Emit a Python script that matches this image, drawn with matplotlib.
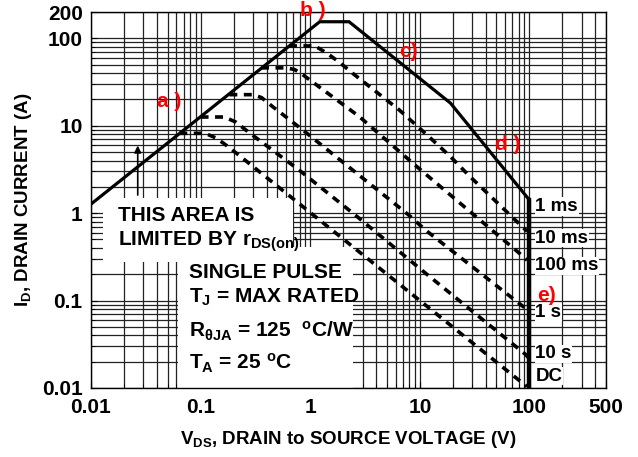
import matplotlib
matplotlib.use("Agg")
import matplotlib.pyplot as plt
from matplotlib.patches import Rectangle

plt.rcParams['font.family'] = ['Liberation Sans', 'DejaVu Sans']
plt.rcParams['font.weight'] = 'bold'
plt.rcParams['mathtext.fontset'] = 'custom'
plt.rcParams['mathtext.rm'] = 'Liberation Sans:bold'
plt.rcParams['mathtext.it'] = 'Liberation Sans:bold'
plt.rcParams['mathtext.bf'] = 'Liberation Sans:bold'

# safe operating area
# solid outline (1 ms): rDS(on) limit, current limit, power limit, 2nd breakdown, BVdss
limit_v = [0.01, 1.22, 2.26, 19, 100, 100]
limit_i = [1.27, 155, 155, 18.2, 1.41, 0.01]

# dashed pulse curves
ms10_v = [0.64, 1.1, 1.4, 1.84, 2.41, 6.44, 12.1, 19, 28, 95]
ms10_i = [82, 82, 68.5, 53.5, 40.3, 15.3, 7.5, 4.44, 2.7, 0.62]

ms100_v = [0.356, 0.6, 0.72, 0.85, 0.98, 2.79, 9.78, 85, 95]
ms100_i = [46, 46, 44, 38.6, 33.8, 12.8, 3.26, 0.33, 0.29]

s1_v = [0.183, 0.3, 0.36, 0.45, 0.85, 7.94, 11.3, 85, 95]
s1_i = [22.7, 22.7, 21, 16.7, 9.0, 0.95, 0.638, 0.088, 0.079]

s10_v = [0.1, 0.165, 0.21, 0.279, 0.79, 2.69, 10.5, 91.4, 97]
s10_i = [12.6, 12.6, 11, 8.3, 3.12, 0.91, 0.221, 0.0244, 0.0225]

dc_v = [0.064, 0.11, 0.14, 0.184, 0.79, 10.9, 82, 95]
dc_i = [8.2, 8.2, 7.2, 5.6, 1.29, 0.0917, 0.012, 0.0104]

xticks = [0.01, 0.1, 1, 10, 100, 500]
xlabels = ['0.01', '0.1', '1', '10', '100', '500']
yticks = [0.01, 0.1, 1, 10, 100, 200]
ylabels = ['0.01', '0.1', '1', '10', '100', '200']

# curve labels at the right edge: (text, current)
curve_labels = [('1 ms', 1.2), ('10 ms', 0.52), ('100 ms', 0.25),
                ('1 s', 0.073), ('10 s', 0.0245), ('DC', 0.0137)]

fig = plt.figure(figsize=(6.38, 4.57), dpi=100)
ax = fig.add_axes([0.1426, 0.151, 0.8074, 0.8226])
ax.set_xscale('log')
ax.set_yscale('log')
ax.set_xlim(0.01, 500)
ax.set_ylim(0.01, 200)
ax.set_axisbelow(True)
ax.grid(True, which='both', color='#222222', lw=0.9)

# white patches behind the notes
ax.add_patch(Rectangle((0.0233, 0.335), 0.369, 0.17, transform=ax.transAxes,
                       facecolor='white', edgecolor='none', zorder=1))
ax.add_patch(Rectangle((0.169, 0.0), 0.34, 0.375, transform=ax.transAxes,
                       facecolor='white', edgecolor='none', zorder=1))

dash = dict(color='black', lw=2.6, linestyle=(0, (2.2, 1.8)), zorder=2)
for v, i in [(ms10_v, ms10_i), (ms100_v, ms100_i), (s1_v, s1_i),
             (s10_v, s10_i), (dc_v, dc_i)]:
    ax.plot(v, i, **dash)

ax.plot(limit_v, limit_i, color='black', lw=2.3, zorder=3, solid_joinstyle='miter')
ax.plot(limit_v[-2:], limit_i[-2:], color='black', lw=3.2, zorder=3)

ax.annotate('', xy=(0.0267, 6.4), xytext=(0.0267, 1.5),
            arrowprops=dict(arrowstyle='-|>', color='black', lw=1.2, mutation_scale=10),
            zorder=3)

ax.set_xticks(xticks)
ax.set_xticklabels(xlabels)
ax.set_yticks(yticks)
ax.set_yticklabels(ylabels)
ax.tick_params(which='both', direction='in', labelsize=15)
ax.tick_params(axis='x', which='major', pad=7)
ax.tick_params(axis='y', which='major', pad=6)
ax.tick_params(which='major', length=4)
ax.tick_params(which='minor', length=3)
for lab in ax.get_xticklabels() + ax.get_yticklabels():
    lab.set_fontweight('bold')
for s in ax.spines.values():
    s.set_linewidth(1.0)

red = dict(color='#ff0000', fontsize=15, fontweight='bold', ha='center', va='center', zorder=5)
ax.text(0.052, 18.9, 'a )', **red)
ax.text(1.05, 210, 'b )', clip_on=False, **red)
ax.text(7.9, 71, 'c)', **red)
ax.text(64, 6.05, 'd )', **red)
ax.text(143, 0.114, 'e)', **red)

for txt, cur in curve_labels:
    ax.text(113, cur, txt, fontsize=13.5, fontweight='bold', ha='left', va='center', zorder=4,
            bbox=dict(facecolor='white', edgecolor='none', pad=0.5))

note = dict(fontsize=15, fontweight='bold', ha='left', va='center', zorder=4)
ax.text(0.0176, 0.93, 'THIS AREA IS', **note)
ax.text(0.0176, 0.47, r'LIMITED BY r$_{\rm DS(on)}$', **note)
ax.text(0.079, 0.21, 'SINGLE PULSE', **note)
ax.text(0.079, 0.108, r'T$_{\rm J}$ = MAX RATED', **note)
ax.text(0.079, 0.045, r'R$_{\rm θJA}$ = 125  $^{\rm o}$C/W', **note)
ax.text(0.079, 0.019, r'T$_{\rm A}$ = 25 $^{\rm o}$C', **note)

ax.set_xlabel(r'V$_{\rm DS}$, DRAIN to SOURCE VOLTAGE (V)', fontsize=13.5, fontweight='bold', labelpad=9)
ax.set_ylabel(r'I$_{\rm D}$, DRAIN CURRENT (A)', fontsize=13.5, fontweight='bold', labelpad=6)

fig.savefig('out.png', dpi=100)
